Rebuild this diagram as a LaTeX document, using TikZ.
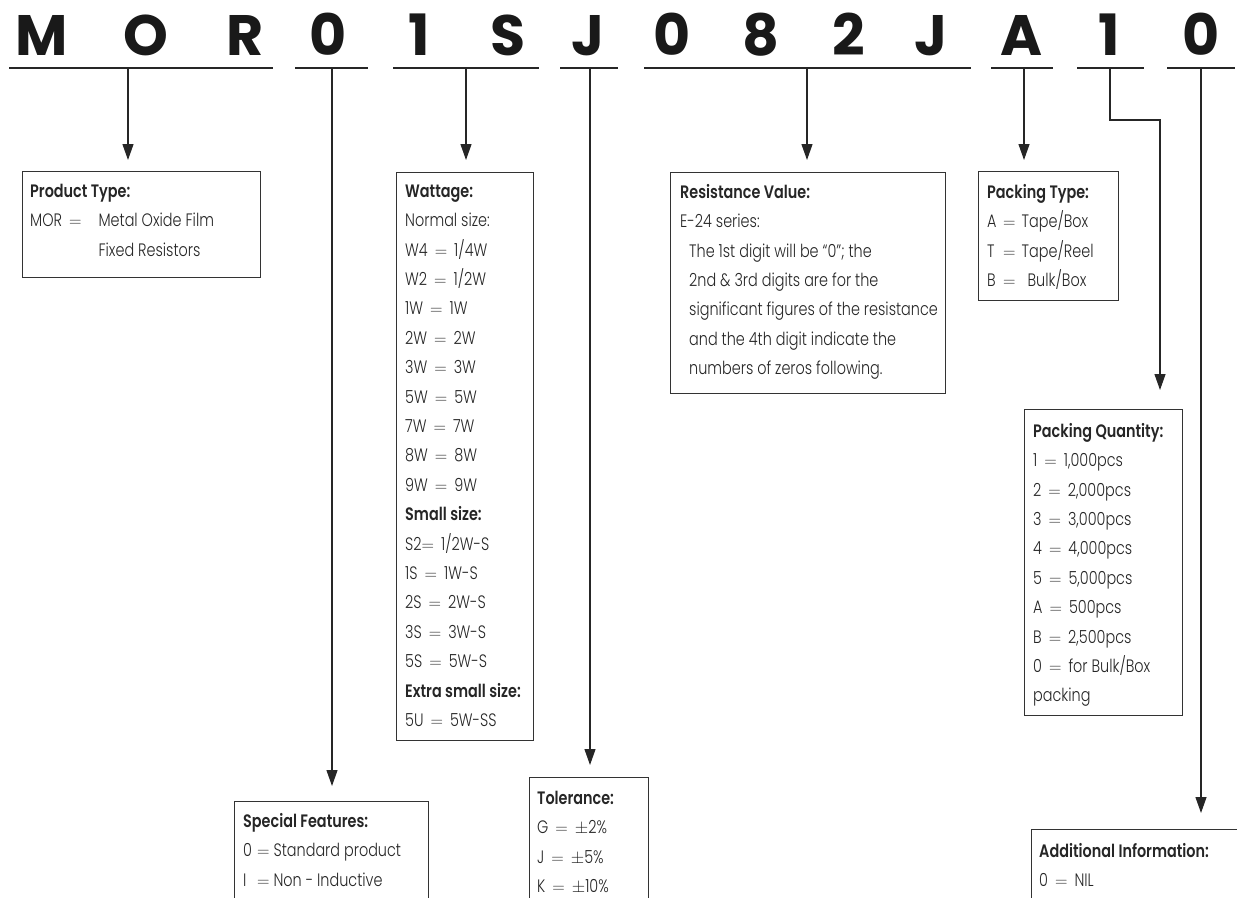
\documentclass[tikz,border=0pt]{standalone}
\usepackage{fontspec}
\setmainfont{Poppins}[UprightFont={* Light},BoldFont={* SemiBold},FakeStretch=0.8]
\newfontfamily\bigfont{Poppins}[UprightFont={* Bold}]
\usetikzlibrary{arrows.meta}
\tikzset{
  ln/.style={line width=1.2pt, draw=black!85},
  arr/.style={ln, -{Triangle[length=16pt,width=11pt]}},
  infobox/.style={draw=black!80, line width=1pt, inner sep=0pt, outer sep=0pt, anchor=north west},
  txt/.style={anchor=north west, inner sep=0pt, align=left, text=black!85, font=\fontsize{18}{29.4}\selectfont},
  big/.style={font=\bigfont\fontsize{57}{57}\selectfont, anchor=base, inner sep=0pt, text=black!90},
}
\newcommand{\fl}{\rule{0pt}{21pt}}
\newcommand{\lab}[2]{\makebox[#1][l]{#2}}
\newcommand{\eq}{\hspace{7pt}$=$\hspace{7pt}}
\begin{document}
\begin{tikzpicture}[x=1pt,y=-1pt]
\useasboundingbox (0,0) rectangle (1237,897);
% code letters
\node[big] (l1) at (42,55) {M};
\node[big] (l2) at (146,55) {O};
\node[big] (l3) at (245,55) {R};
\node[big] (l4) at (328,55) {0};
\node[big] (l5) at (419,55) {1};
\node[big] (l6) at (508,55) {S};
\node[big] (l7) at (588,55) {J};
\node[big] (l8) at (672,55) {0};
\node[big] (l9) at (761,55) {8};
\node[big] (l10) at (849,55) {2};
\node[big] (l11) at (931,55) {J};
\node[big] (l12) at (1021,55) {A};
\node[big] (l13) at (1109,55) {1};
\node[big] (l14) at (1201,55) {0};
% underline segments
\coordinate (a1) at (9,68);    \coordinate (b1) at (273,68);
\coordinate (a2) at (295,68);  \coordinate (b2) at (368,68);
\coordinate (a3) at (393,68);  \coordinate (b3) at (539,68);
\coordinate (a4) at (560,68);  \coordinate (b4) at (618,68);
\coordinate (a5) at (644,68);  \coordinate (b5) at (971,68);
\coordinate (a6) at (991,68);  \coordinate (b6) at (1053,68);
\coordinate (a7) at (1077,68); \coordinate (b7) at (1144,68);
\coordinate (a8) at (1167,68); \coordinate (b8) at (1235,68);
\foreach \i in {1,...,8} {\draw[ln] (a\i) -- (b\i);}
% tick points
\coordinate (k1) at (128,68);
\coordinate (k2) at (332,68);
\coordinate (k3) at (466,68);
\coordinate (k4) at (590,68);
\coordinate (k5) at (807,68);
\coordinate (k6) at (1024,68);
\coordinate (k7) at (1110,68);
\coordinate (k8) at (1201,68);
\coordinate (e7) at (1160,120);
% boxes
\node[infobox, minimum width=238pt, minimum height=106pt] (bPT) at (22,171) {};
\node[infobox, minimum width=137pt, minimum height=568pt] (bW) at (396,172) {};
\node[infobox, minimum width=194pt, minimum height=140pt] (bSF) at (234,801) {};
\node[infobox, minimum width=119pt, minimum height=160pt] (bTol) at (529,777) {};
\node[infobox, minimum width=275pt, minimum height=221pt] (bRV) at (670,172) {};
\node[infobox, minimum width=140pt, minimum height=129pt] (bPK) at (978,171) {};
\node[infobox, minimum width=158pt, minimum height=306pt] (bPQ) at (1024,409) {};
\node[infobox, minimum width=240pt, minimum height=120pt] (bAI) at (1031,829) {};
% arrows
\draw[arr, shorten >=11pt] (k1) -- (k1 |- bPT.north);
\draw[arr, shorten >=15pt] (k2) -- (k2 |- bSF.north);
\draw[arr, shorten >=12pt] (k3) -- (k3 |- bW.north);
\draw[arr, shorten >=12pt] (k4) -- (k4 |- bTol.north);
\draw[arr, shorten >=12pt] (k5) -- (k5 |- bRV.north);
\draw[arr, shorten >=11pt] (k6) -- (k6 |- bPK.north);
\draw[arr, shorten >=19pt] (k7) |- (e7) -- (e7 |- bPQ.north);
\draw[arr, shorten >=16pt] (k8) -- (k8 |- bAI.north);
% texts
\node[txt] (tPT) at (30,176) {\fl\textbf{Product Type:}\\
  MOR\eq\hspace{10pt}Metal Oxide Film\\
  \phantom{MOR\eq\hspace{10pt}}Fixed Resistors};
\node[txt] (tW) at (405,176) {\fl\textbf{Wattage:}\\
  Normal size:\\ W4\eq 1/4W\\ W2\eq 1/2W\\ 1W\eq 1W\\ 2W\eq 2W\\ 3W\eq 3W\\ 5W\eq 5W\\
  7W\eq 7W\\ 8W\eq 8W\\ 9W\eq 9W\\
  \textbf{Small size:}\\ S2$=$\hspace{7pt}1/2W-S\\ 1S\eq 1W-S\\ 2S\eq 2W-S\\ 3S\eq 3W-S\\ 5S\eq 5W-S\\
  \textbf{Extra small size:}\\ 5U\eq 5W-SS};
\node[txt] (tSF) at (243,806) {\fl\textbf{Special Features:}\\
  \lab{14pt}{0}$=$ Standard product\\
  \lab{14pt}{I}$=$ Non - Inductive};
\node[txt] (tTol) at (537,783) {\fl\textbf{Tolerance:}\\
  G\eq $\pm$2\%\\ J\eq $\pm$5\%\\ K\eq $\pm$10\%};
\node[txt] (tRV) at (680,177) {\fl\textbf{Resistance Value:}\\
  E-24 series:\\
  \hspace*{9pt}The 1st digit will be “0”; the\\
  \hspace*{9pt}2nd \& 3rd digits are for the\\
  \hspace*{9pt}significant figures of the resistance\\
  \hspace*{9pt}and the 4th digit indicate the\\
  \hspace*{9pt}numbers of zeros following.};
\node[txt] (tPK) at (987,177) {\fl\textbf{Packing Type:}\\
  \lab{16pt}{A}$=$\hspace{6pt}Tape/Box\\
  \lab{16pt}{T}$=$\hspace{6pt}Tape/Reel\\
  \lab{16pt}{B}$=$\hspace{12pt}Bulk/Box};
\node[txt] (tPQ) at (1033,416) {\fl\textbf{Packing Quantity:}\\
  1\eq 1,000pcs\\ 2\eq 2,000pcs\\ 3\eq 3,000pcs\\ 4\eq 4,000pcs\\ 5\eq 5,000pcs\\
  A\eq 500pcs\\ B\eq 2,500pcs\\ 0\eq for Bulk/Box\\ packing};
\node[txt] (tAI) at (1039,836) {\fl\textbf{Additional Information:}\\
  0\eq NIL};
\end{tikzpicture}
\end{document}
